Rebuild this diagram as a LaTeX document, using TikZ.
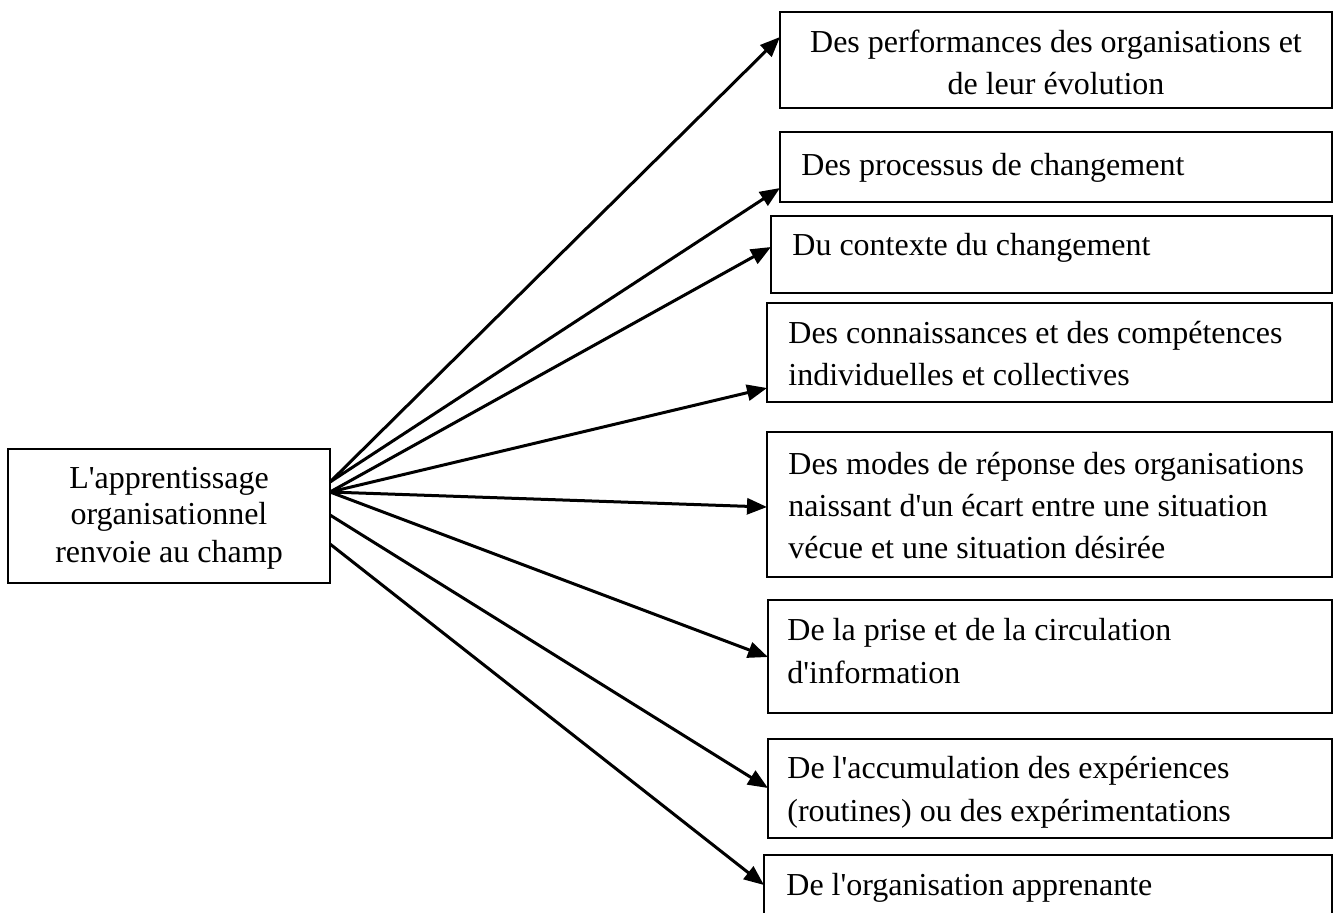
\documentclass[tikz,border=0pt]{standalone}
\usepackage{fontspec}
\setmainfont{Liberation Serif}[Ligatures=TeXOff]
\usetikzlibrary{arrows.meta,calc,fit}

\begin{document}
\begin{tikzpicture}[x=0.5pt,y=-0.5pt]
\tikzset{
  frame/.style={draw, line width=1.3pt, inner sep=0pt, outer sep=0pt},
  txt/.style={font=\fontsize{16}{19}\selectfont, inner sep=0pt},
  link/.style={line width=1.5pt, -{Triangle[length=10pt,width=8pt]}},
}
\useasboundingbox (0,0) rectangle (1333,912);

% source box
\node[frame, fit={(8,449) (330,583)}] (src) {};
\node[txt, anchor=base] (s1) at (169,488) {L'apprentissage};
\node[txt, anchor=base] (s2) at (169,524) {organisationnel};
\node[txt, anchor=base] (s3) at (169,562) {renvoie au champ};

% target boxes
\node[frame, fit={(780,12) (1332,108)}] (b1) {};
\node[frame, fit={(780,132) (1332,202)}] (b2) {};
\node[frame, fit={(771,216) (1332,293)}] (b3) {};
\node[frame, fit={(767,303) (1332,402)}] (b4) {};
\node[frame, fit={(767,432) (1332,577)}] (b5) {};
\node[frame, fit={(768,600) (1332,713)}] (b6) {};
\node[frame, fit={(768,739) (1332,838)}] (b7) {};
\node[frame, fit={(764,855) (1332,930)}] (b8) {};

\node[txt, anchor=base] (t1a) at (1056,52) {Des performances des organisations et};
\node[txt, anchor=base] (t1b) at (1056,94) {de leur évolution};
\node[txt, anchor=base west] (t2) at (801,175) {Des processus de changement};
\node[txt, anchor=base west] (t3) at (792,255) {Du contexte du changement};
\node[txt, anchor=base west] (t4a) at (788,343) {Des connaissances et des compétences};
\node[txt, anchor=base west] (t4b) at (788,385) {individuelles et collectives};
\node[txt, anchor=base west] (t5a) at (788,474) {Des modes de réponse des organisations};
\node[txt, anchor=base west] (t5b) at (788,516) {naissant d'un écart entre une situation};
\node[txt, anchor=base west] (t5c) at (788,558) {vécue et une situation désirée};
\node[txt, anchor=base west] (t6a) at (787,640) {De la prise et de la circulation};
\node[txt, anchor=base west] (t6b) at (787,683) {d'information};
\node[txt, anchor=base west] (t7a) at (787,778) {De l'accumulation des expériences};
\node[txt, anchor=base west] (t7b) at (787,821) {(routines) ou des expérimentations};
\node[txt, anchor=base west] (t8) at (786,895) {De l'organisation apprenante};

% connector ends on the source box
\coordinate (oa) at ($(src.north east)+(0,33)$);
\coordinate (ob) at ($(src.north east)+(0,43)$);
\coordinate (oc) at ($(src.north east)+(0,66)$);
\coordinate (od) at ($(src.north east)+(0,95)$);

% connector ends on the target boxes
\coordinate (e1) at ($(b1.north west)+(0,25)$);
\coordinate (e2) at ($(b2.north west)+(0,56)$);
\coordinate (e3) at ($(b3.north west)+(0,31)$);
\coordinate (e4) at ($(b4.north west)+(0,85)$);
\coordinate (e5) at ($(b5.north west)+(0,75)$);
\coordinate (e6) at ($(b6.north west)+(0,57)$);
\coordinate (e7) at ($(b7.north west)+(0,49)$);
\coordinate (e8) at ($(b8.north west)+(0,30)$);

\draw[link] (oa) -- (e1);
\draw[link] (oa) -- (e2);
\draw[link] (ob) -- (e3);
\draw[link] (ob) -- (e4);
\draw[link] (ob) -- (e5);
\draw[link] (ob) -- (e6);
\draw[link] (oc) -- (e7);
\draw[link] (od) -- (e8);
\end{tikzpicture}
\end{document}
